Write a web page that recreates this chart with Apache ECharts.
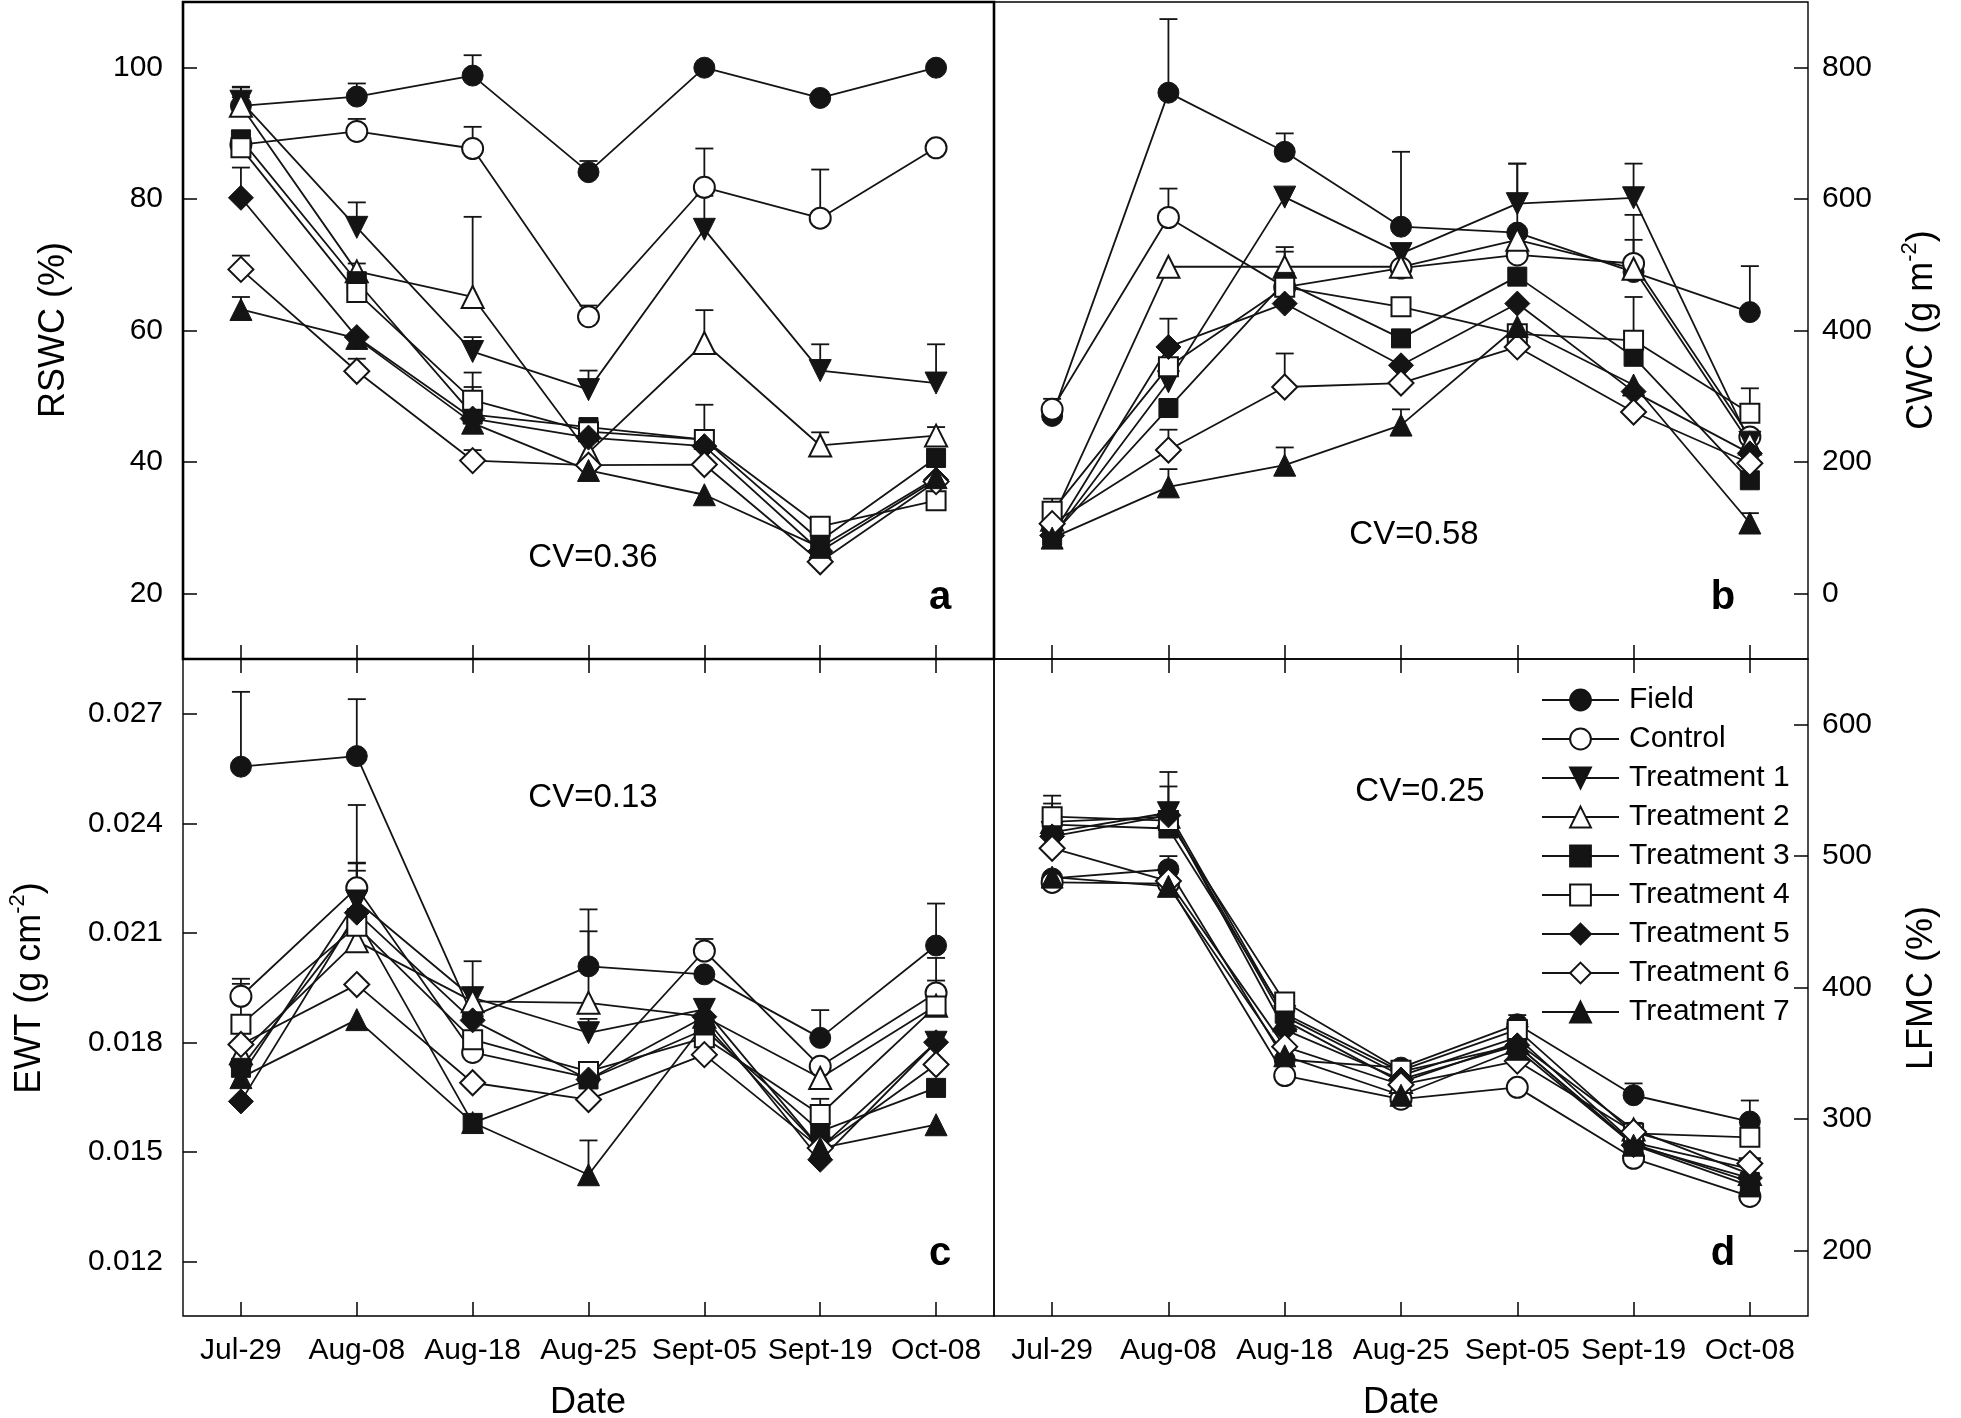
<!DOCTYPE html>
<html><head><meta charset="utf-8">
<script src="https://cdn.jsdelivr.net/npm/echarts@6/dist/echarts.min.js"></script>
<style>html,body{margin:0;padding:0;background:#fff}#c{width:1961px;height:1418px}</style>
</head><body><div id="c"></div>
<script>
// ---------------- data ----------------
const DATES = ['Jul-29','Aug-08','Aug-18','Aug-25','Sept-05','Sept-19','Oct-08'];
const NAMES = ['Field','Control','Treatment 1','Treatment 2','Treatment 3','Treatment 4','Treatment 5','Treatment 6','Treatment 7'];

const RSWC_TICKS = [20, 40, 60, 80, 100];
const CWC_TICKS = [0, 200, 400, 600, 800];
const EWT_TICKS = [0.012, 0.015, 0.018, 0.021, 0.024, 0.027];
const LFMC_TICKS = [200, 300, 400, 500, 600];

// (a) RSWC (%) means and upper error-bar ends
const rswc_field   = [94.2, 95.6, 98.8, 84.1, 100, 95.4, 100];
const rswc_control = [88.3, 90.3, 87.7, 62.1, 81.8, 77.1, 87.8];
const rswc_t1 = [94.9, 75.7, 56.8, 51.0, 75.4, 53.9, 52.0];
const rswc_t2 = [94.2, 69.0, 65.1, 41.4, 58.1, 42.5, 44.0];
const rswc_t3 = [89.1, 67.5, 47.2, 45.3, 43.4, 28.0, 40.6];
const rswc_t4 = [87.8, 65.8, 49.4, 44.6, 43.4, 30.2, 34.1];
const rswc_t5 = [80.2, 59.0, 46.6, 43.7, 42.4, 26.4, 37.3];
const rswc_t6 = [69.3, 53.8, 40.2, 39.5, 39.6, 24.8, 37.0];
const rswc_t7 = [63.2, 58.8, 45.9, 38.7, 35.0, 27.0, 37.6];
const rswc_field_e   = [97.1, 97.6, 101.9, 85.8, null, null, null];
const rswc_control_e = [null, 92.2, 91.0, 63.8, 87.7, 84.5, null];
const rswc_t1_e = [97.0, 79.5, 59.0, 53.9, 80.5, 57.9, 57.9];
const rswc_t2_e = [95.5, 70.2, 77.3, null, 63.1, 44.5, 45.3];
const rswc_t3_e = [null, null, 51.4, null, null, 31.4, null];
const rswc_t4_e = [null, null, 53.6, null, 48.7, 31.0, null];
const rswc_t5_e = [84.8, null, null, null, null, null, null];
const rswc_t6_e = [71.4, 55.7, 41.8, null, null, null, null];
const rswc_t7_e = [65.1, null, null, null, null, null, null];

// (b) CWC (g m-2)
const cwc_field   = [270, 762, 672, 558, 549, 489, 428];
const cwc_control = [280, 572, 466, 495, 515, 502, 238];
const cwc_t1 = [86, 322, 603, 517, 593, 602, 230];
const cwc_t2 = [112, 497, 497, 497, 538, 494, 228];
const cwc_t3 = [88, 282, 474, 388, 482, 360, 172];
const cwc_t4 = [125, 345, 466, 436, 395, 385, 274];
const cwc_t5 = [88, 375, 441, 347, 441, 307, 213];
const cwc_t6 = [106, 218, 314, 320, 375, 276, 198];
const cwc_t7 = [84, 162, 195, 256, 406, 317, 107];
const cwc_field_e   = [296, 874, 700, 672, 654, null, 498];
const cwc_control_e = [null, 616, null, null, null, 576, null];
const cwc_t1_e = [null, null, null, null, 654, 654, null];
const cwc_t2_e = [null, null, 527, null, null, 538, null];
const cwc_t3_e = [null, null, 520, null, null, null, null];
const cwc_t4_e = [144, null, null, null, null, 451, 312];
const cwc_t5_e = [null, 418, null, null, null, null, null];
const cwc_t6_e = [null, 249, 365, null, null, null, null];
const cwc_t7_e = [null, 189, 222, 280, null, null, 122];

// (c) EWT (g cm-2)
const ewt_field   = [0.02555, 0.02584, 0.01871, 0.02008, 0.01986, 0.01812, 0.02065];
const ewt_control = [0.01926, 0.02223, 0.01772, 0.01703, 0.02050, 0.01734, 0.01935];
const ewt_t1 = [0.01707, 0.02187, 0.01922, 0.01826, 0.01890, 0.01510, 0.01800];
const ewt_t2 = [0.01770, 0.02077, 0.01912, 0.01908, 0.01870, 0.01702, 0.01900];
const ewt_t3 = [0.01730, 0.02140, 0.01579, 0.01698, 0.01835, 0.01556, 0.01675];
const ewt_t4 = [0.01849, 0.02118, 0.01807, 0.01720, 0.01812, 0.01602, 0.01899];
const ewt_t5 = [0.01638, 0.02155, 0.01860, 0.01698, 0.01870, 0.01478, 0.01800];
const ewt_t6 = [0.01794, 0.01958, 0.01689, 0.01643, 0.01766, 0.01510, 0.01739];
const ewt_t7 = [0.01703, 0.01862, 0.01580, 0.01437, 0.01850, 0.01510, 0.01574];
const ewt_field_e   = [0.02760, 0.02740, 0.02022, 0.02164, null, 0.01888, 0.02180];
const ewt_control_e = [0.01974, 0.02292, null, null, 0.02083, null, 0.01969];
const ewt_t1_e = [null, 0.02290, null, 0.01864, null, null, null];
const ewt_t2_e = [null, null, null, 0.02104, null, null, null];
const ewt_t3_e = [null, null, null, null, null, null, null];
const ewt_t4_e = [0.01960, 0.02270, null, null, null, 0.01645, 0.02031];
const ewt_t5_e = [null, 0.02450, null, null, null, null, null];
const ewt_t6_e = [null, null, null, null, null, null, null];
const ewt_t7_e = [null, null, null, 0.01531, null, null, null];

// (d) LFMC (%)
const lfmc_field   = [483, 490, 345, 339, 372, 318, 298];
const lfmc_control = [480, 479, 333, 315, 324, 270, 241];
const lfmc_t1 = [518, 533, 378, 333, 362, 282, 262];
const lfmc_t2 = [526, 530, 375, 328, 358, 292, 258];
const lfmc_t3 = [524, 521, 380, 336, 356, 281, 252];
const lfmc_t4 = [530, 527, 389, 337, 368, 289, 286];
const lfmc_t5 = [515, 531, 368, 330, 356, 280, 255];
const lfmc_t6 = [506, 481, 355, 326, 344, 290, 266];
const lfmc_t7 = [484, 477, 348, 318, 353, 280, 249];
const lfmc_field_e   = [null, 500, null, null, 379, 327, 314];
const lfmc_control_e = [null, null, null, null, null, null, null];
const lfmc_t1_e = [540, 564, null, null, null, null, null];
const lfmc_t2_e = [null, null, null, null, null, 297, null];
const lfmc_t3_e = [null, 553, null, null, null, null, null];
const lfmc_t4_e = [546, null, null, null, null, null, null];
const lfmc_t5_e = [null, null, null, null, null, null, null];
const lfmc_t6_e = [null, null, null, null, null, null, null];
const lfmc_t7_e = [null, null, null, null, null, null, null];

// ---------------- build ----------------
const FONT = '"Liberation Sans", Arial, sans-serif';
const PANELS = [
  { vals: [rswc_field, rswc_control, rswc_t1, rswc_t2, rswc_t3, rswc_t4, rswc_t5, rswc_t6, rswc_t7],
    errs: [rswc_field_e, rswc_control_e, rswc_t1_e, rswc_t2_e, rswc_t3_e, rswc_t4_e, rswc_t5_e, rswc_t6_e, rswc_t7_e] },
  { vals: [cwc_field, cwc_control, cwc_t1, cwc_t2, cwc_t3, cwc_t4, cwc_t5, cwc_t6, cwc_t7],
    errs: [cwc_field_e, cwc_control_e, cwc_t1_e, cwc_t2_e, cwc_t3_e, cwc_t4_e, cwc_t5_e, cwc_t6_e, cwc_t7_e] },
  { vals: [ewt_field, ewt_control, ewt_t1, ewt_t2, ewt_t3, ewt_t4, ewt_t5, ewt_t6, ewt_t7],
    errs: [ewt_field_e, ewt_control_e, ewt_t1_e, ewt_t2_e, ewt_t3_e, ewt_t4_e, ewt_t5_e, ewt_t6_e, ewt_t7_e] },
  { vals: [lfmc_field, lfmc_control, lfmc_t1, lfmc_t2, lfmc_t3, lfmc_t4, lfmc_t5, lfmc_t6, lfmc_t7],
    errs: [lfmc_field_e, lfmc_control_e, lfmc_t1_e, lfmc_t2_e, lfmc_t3_e, lfmc_t4_e, lfmc_t5_e, lfmc_t6_e, lfmc_t7_e] }
];

const INK = '#141414';
const MARK = [
  { symbol: 'circle',   size: 21, rot: 0,   open: false },
  { symbol: 'circle',   size: 21, rot: 0,   open: true  },
  { symbol: 'triangle', size: 22, rot: 180, open: false },
  { symbol: 'triangle', size: 22, rot: 0,   open: true  },
  { symbol: 'rect',     size: 19, rot: 0,   open: false },
  { symbol: 'rect',     size: 19, rot: 0,   open: true  },
  { symbol: 'diamond',  size: 25, rot: 0,   open: false },
  { symbol: 'diamond',  size: 25, rot: 0,   open: true  },
  { symbol: 'triangle', size: 22, rot: 0,   open: false }
];

const GRIDS = [
  { left: 183, top: 2,   width: 811, height: 657, show: true, borderColor: '#000', borderWidth: 2.6, backgroundColor: 'transparent' },
  { left: 994, top: 2,   width: 814, height: 657, show: true, borderColor: '#000', borderWidth: 1.4, backgroundColor: 'transparent' },
  { left: 183, top: 659, width: 811, height: 657, show: true, borderColor: '#000', borderWidth: 1.4, backgroundColor: 'transparent' },
  { left: 994, top: 659, width: 814, height: 657, show: true, borderColor: '#000', borderWidth: 1.4, backgroundColor: 'transparent' }
];

const tick = { show: true, inside: true, length: 14, alignWithLabel: true, lineStyle: { color: '#000', width: 1.5 } };
const xAxes = [0, 1, 2, 3].map(i => ({
  type: 'category', gridIndex: i, data: DATES, boundaryGap: true, position: 'bottom',
  axisLine: { show: false, onZero: false }, axisTick: tick, splitLine: { show: false },
  axisLabel: { show: i >= 2, fontSize: 30, fontFamily: FONT, color: '#000', margin: 20, interval: 0 }
}));
[2, 3].forEach(i => xAxes.push({
  type: 'category', gridIndex: i, data: DATES, boundaryGap: true, position: 'top',
  axisLine: { show: false, onZero: false }, axisTick: tick, axisLabel: { show: false }, splitLine: { show: false }
}));

function yAx(i, min, max, pos, ticks, fmt) {
  return {
    type: 'value', gridIndex: i, min: min, max: max, position: pos,
    axisLine: { show: false, onZero: false }, splitLine: { show: false },
    axisTick: { show: true, inside: true, length: 14, lineStyle: { color: '#000', width: 1.5 }, customValues: ticks },
    axisLabel: { show: true, fontSize: 30, fontFamily: FONT, color: '#000', margin: pos === 'left' ? 20 : 14,
                 customValues: ticks, formatter: fmt }
  };
}
const yAxes = [
  yAx(0, 10, 110, 'left', RSWC_TICKS, v => String(Math.round(v))),
  yAx(1, -100, 900, 'right', CWC_TICKS, v => String(Math.round(v))),
  yAx(2, 0.0105, 0.0285, 'left', EWT_TICKS, v => Number(v).toFixed(3)),
  yAx(3, 150, 650, 'right', LFMC_TICKS, v => String(Math.round(v)))
];

function renderErr(params, api) {
  const x = api.value(0), lo = api.value(1), hi = api.value(2);
  const p0 = api.coord([x, lo]);
  const p1 = api.coord([x, hi]);
  const w = 9;
  const st = { stroke: INK, lineWidth: 1.8 };
  return { type: 'group', children: [
    { type: 'line', shape: { x1: p0[0], y1: p0[1], x2: p1[0], y2: p1[1] }, style: st },
    { type: 'line', shape: { x1: p1[0] - w, y1: p1[1], x2: p1[0] + w, y2: p1[1] }, style: st }
  ]};
}

const series = [];
PANELS.forEach((p, gi) => {
  const errData = [];
  p.errs.forEach((e, si) => e.forEach((hi, i) => {
    if (hi != null && p.vals[si][i] != null) errData.push([i, p.vals[si][i], hi]);
  }));
  series.push({ type: 'custom', xAxisIndex: gi, yAxisIndex: gi, data: errData, renderItem: renderErr,
    encode: { x: 0, y: [1, 2] }, z: 1, silent: true, animation: false, clip: false });
  p.vals.forEach((arr, si) => {
    const m = MARK[si];
    series.push({
      type: 'line', name: NAMES[si], xAxisIndex: gi, yAxisIndex: gi, data: arr,
      symbol: m.symbol, symbolSize: m.size, symbolRotate: m.rot, showAllSymbol: true,
      itemStyle: { color: m.open ? '#ffffff' : INK, borderColor: INK, borderWidth: m.open ? 2 : 1, opacity: 1 },
      lineStyle: { color: INK, width: 1.8 },
      emphasis: { disabled: true }, z: 3, animation: false
    });
  });
});

function txt(x, y, text, size, extra) {
  return Object.assign({ type: 'text', x: x, y: y, z: 100,
    style: Object.assign({ text: text, fontSize: size, fontFamily: FONT, fill: '#000', align: 'center', verticalAlign: 'middle' }, extra || {}) });
}
function vtxt(x, y, text, rich) {
  return { type: 'text', x: x, y: y, rotation: Math.PI / 2, z: 100,
    style: { text: text, fontSize: 36, fontFamily: FONT, fill: '#000', align: 'center', verticalAlign: 'middle', rich: rich || undefined } };
}
const supRich = {
  n: { fontSize: 36, fontFamily: FONT, fill: '#000', lineHeight: 46 },
  s: { fontSize: 22, fontFamily: FONT, fill: '#000', verticalAlign: 'top' }
};

const graphic = [
  txt(593, 558, 'CV=0.36', 33),
  txt(1414, 535, 'CV=0.58', 33),
  txt(593, 798, 'CV=0.13', 33),
  txt(1420, 792, 'CV=0.25', 33),
  txt(940, 598, 'a', 40, { fontWeight: 'bold' }),
  txt(1723, 598, 'b', 40, { fontWeight: 'bold' }),
  txt(940, 1254, 'c', 40, { fontWeight: 'bold' }),
  txt(1723, 1254, 'd', 40, { fontWeight: 'bold' }),
  txt(588, 1403, 'Date', 36),
  txt(1401, 1403, 'Date', 36),
  vtxt(54, 330, 'RSWC (%)'),
  vtxt(30, 988, '{n|EWT (g cm}{s|-2}{n|)}', supRich),
  vtxt(1922, 330, '{n|CWC (g m}{s|-2}{n|)}', supRich),
  vtxt(1922, 988, 'LFMC (%)')
];

const chart = echarts.init(document.getElementById('c'), null, { renderer: 'canvas' });
chart.setOption({
  backgroundColor: '#ffffff',
  animation: false,
  grid: GRIDS,
  xAxis: xAxes,
  yAxis: yAxes,
  legend: {
    orient: 'vertical', left: 1536, top: 680, itemWidth: 77, itemHeight: 26, itemGap: 9,
    data: NAMES, selectedMode: false,
    textStyle: { fontSize: 30, fontFamily: FONT, color: '#000', padding: [0, 0, 0, 5] }
  },
  series: series,
  graphic: graphic
});
</script>
</body></html>
